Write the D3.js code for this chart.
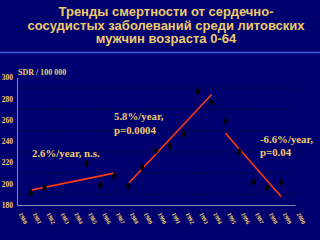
<!DOCTYPE html>
<html>
<head>
<meta charset="utf-8">
<script src="https://cdn.jsdelivr.net/npm/d3@7"></script>
<style>
  body { margin: 0; background: #00006e; }
  svg { display: block; }
</style>
</head>
<body>
<div id="chart"></div>
<script>
// Title lines
var titleLines = ['Тренды смертности от сердечно-', 'сосудистых заболеваний среди литовских', 'мужчин возраста 0-64'];

// Observed SDR points (year, value)
var years = [1981, 1982, 1985, 1986, 1987, 1988, 1989, 1990, 1991, 1992, 1993, 1994, 1995, 1996, 1997, 1998, 1999];
var values = [191.6, 196.3, 218.9, 198.5, 207.3, 197.9, 215.1, 231.4, 235.5, 246.8, 287.0, 276.3, 259.1, 230.2, 201.6, 196.3, 201.4];

// Trend segments
var trendStart = [1981, 1988, 1995];
var trendEnd = [1987, 1994, 1999];
var trendFrom = [194, 200, 247.5];
var trendTo = [210, 284, 188];

var yTicks = [180, 200, 220, 240, 260, 280, 300];
var xTicks = d3.range(1980, 2001);
var gridVals = [190, 210, 230, 250, 270, 290];

var W = 320, H = 240;
var gold = '#eecb6c';

var svg = d3.select('#chart').append('svg').attr('width', W).attr('height', H);

svg.append('rect').attr('width', W).attr('height', H).attr('fill', '#00006e');

// title
svg.append('g').selectAll('text').data(titleLines).enter().append('text')
    .attr('x', 166)
    .attr('y', function(d, i) { return 16 + i * 13.5; })
    .attr('text-anchor', 'middle')
    .style('font-family', 'Liberation Sans, Arial, sans-serif')
    .style('font-weight', 'bold')
    .style('font-size', '13px')
    .attr('fill', gold)
    .text(function(d) { return d; });

svg.append('line').attr('x1', 0).attr('x2', W).attr('y1', 52.5).attr('y2', 52.5)
    .attr('stroke', '#3a5ae0').attr('stroke-width', 1.5);

var x = d3.scaleLinear().domain([1980, 2000]).range([17, 295]);
var y = d3.scaleLinear().domain([180, 300]).range([205, 77.5]);

// faint gridlines
svg.append('g').selectAll('line').data(gridVals).enter().append('line')
    .attr('x1', x(1980)).attr('x2', x(2000))
    .attr('y1', function(d) { return y(d); }).attr('y2', function(d) { return y(d); })
    .attr('stroke', '#000048').attr('stroke-width', 1)
    .attr('stroke-dasharray', '2,1');

// axes
var yAxis = svg.append('g').attr('transform', 'translate(' + x(1980) + ',0)')
    .call(d3.axisLeft(y).tickValues(yTicks).tickSize(0).tickPadding(4));
var xAxis = svg.append('g').attr('transform', 'translate(0,' + y(180) + ')')
    .call(d3.axisBottom(x).tickValues(xTicks).tickSize(0).tickFormat(d3.format('d')));

[yAxis, xAxis].forEach(function(a) {
    a.select('.domain').attr('stroke', '#8888aa').attr('stroke-width', 1);
    a.selectAll('text')
        .style('font-family', 'Liberation Serif, Times New Roman, serif')
        .style('font-weight', 'bold')
        .attr('fill', gold);
});
yAxis.selectAll('text').style('font-size', '7.5px');
xAxis.selectAll('text')
    .style('font-size', '6px')
    .attr('text-anchor', 'start')
    .attr('dy', 0)
    .attr('y', 0)
    .attr('transform', 'translate(1,9) rotate(62)');

svg.append('text').attr('x', 18).attr('y', 74.5)
    .style('font-family', 'Liberation Serif, Times New Roman, serif')
    .style('font-weight', 'bold').style('font-size', '8px')
    .attr('fill', gold).text('SDR / 100 000');

// trend lines
svg.append('g').selectAll('line').data(trendStart).enter().append('line')
    .attr('x1', function(d) { return x(d); })
    .attr('x2', function(d, i) { return x(trendEnd[i]); })
    .attr('y1', function(d, i) { return y(trendFrom[i]); })
    .attr('y2', function(d, i) { return y(trendTo[i]); })
    .attr('stroke', '#ff3a12').attr('stroke-width', 1.6);

// points
svg.append('g').selectAll('path').data(years).enter().append('path')
    .attr('d', d3.symbol().type(d3.symbolDiamond).size(20))
    .attr('transform', function(d, i) { return 'translate(' + x(d) + ',' + y(values[i]) + ')'; })
    .attr('fill', '#000');

// annotations
var notes = [
    {x: 32, y: 157, t: '2.6%/year, n.s.'},
    {x: 114, y: 120, t: '5.8%/year,'},
    {x: 114, y: 134, t: 'p=0.0004'},
    {x: 260, y: 142.5, t: '-6.6%/year,'},
    {x: 260, y: 156, t: 'p=0.04'}
];
svg.append('g').selectAll('text').data(notes).enter().append('text')
    .attr('x', function(d) { return d.x; })
    .attr('y', function(d) { return d.y; })
    .style('font-family', 'Liberation Serif, Times New Roman, serif')
    .style('font-weight', 'bold').style('font-size', '10.8px')
    .attr('fill', gold)
    .text(function(d) { return d.t; });
</script>
</body>
</html>
